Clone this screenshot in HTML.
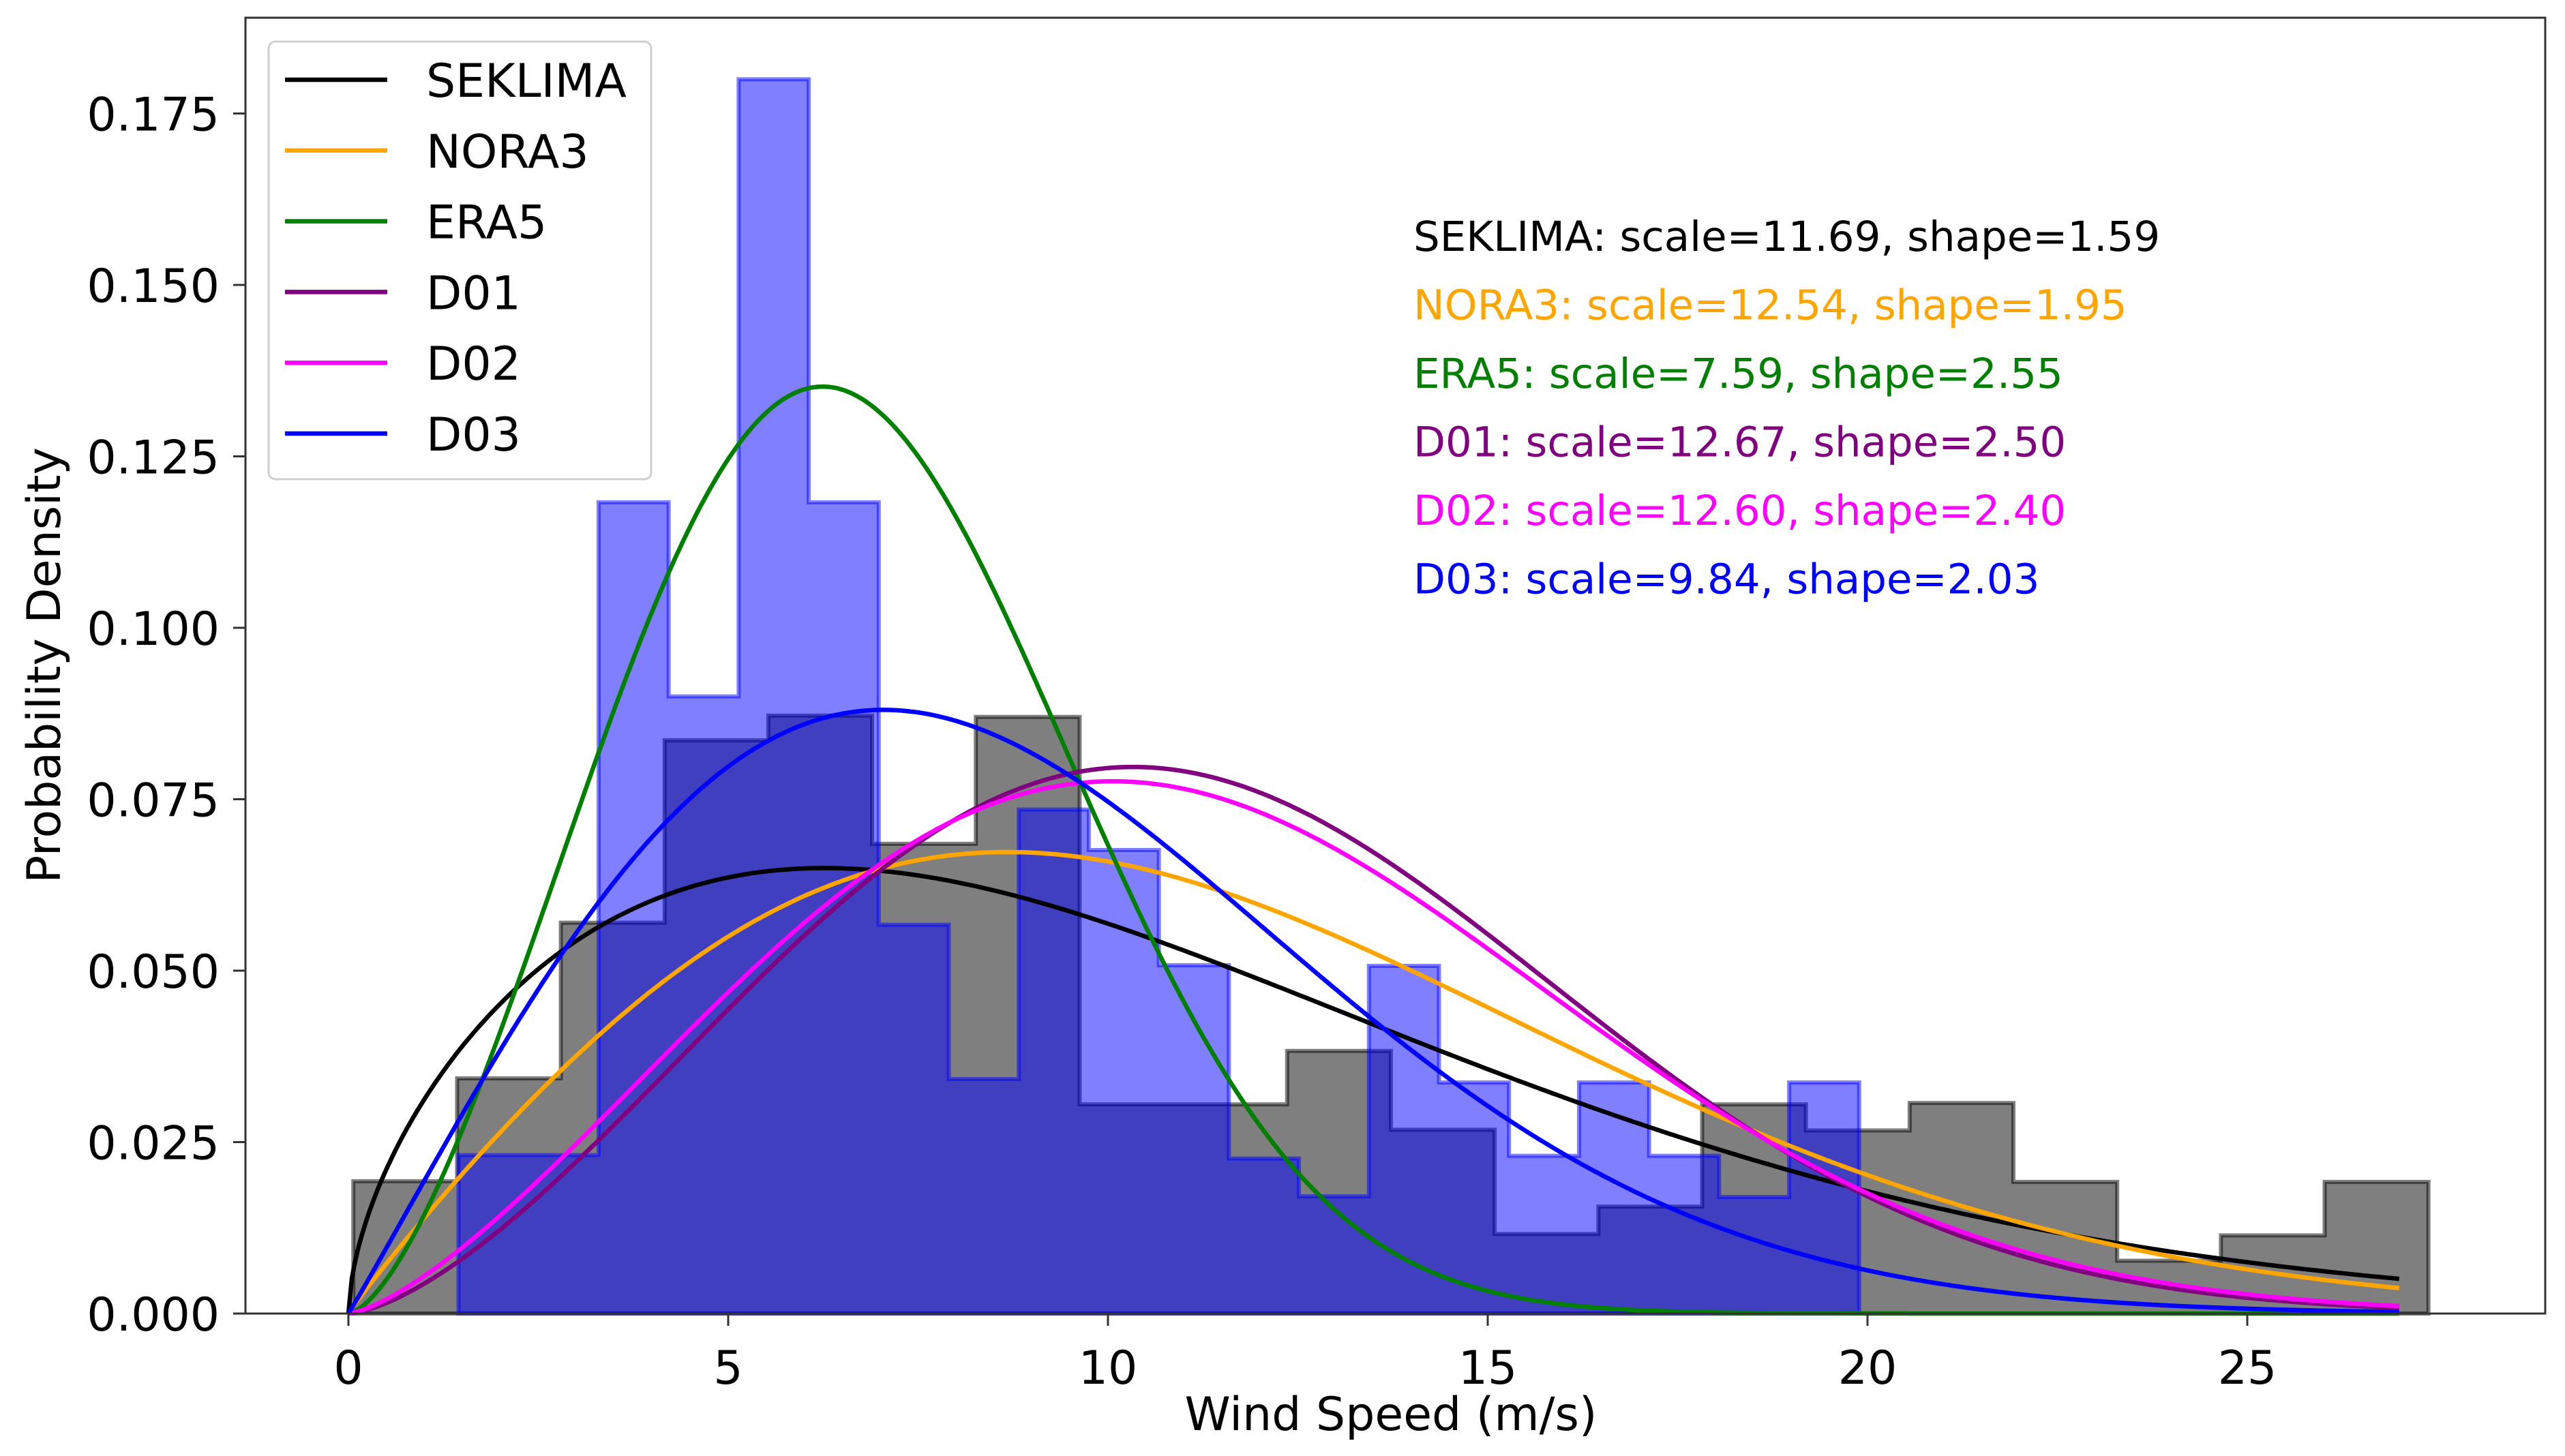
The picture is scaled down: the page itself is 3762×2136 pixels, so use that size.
<!DOCTYPE html>
<html><head><meta charset="utf-8"><style>
html,body{margin:0;padding:0;background:#fff;}
svg{display:block;font-family:"DejaVu Sans","Liberation Sans",sans-serif;}
</style></head><body>
<svg id="chart" width="3762" height="2136" viewBox="0 0 3762 2136" xmlns="http://www.w3.org/2000/svg">
<rect x="0" y="0" width="3762" height="2136" fill="#fff"/>
<g id="hist"></g>
<g id="curves"></g>
<rect x="360" y="26" width="3373" height="1901" fill="none" stroke="#333" stroke-width="3"/>
<g id="axes"></g>
<g id="annot"></g>
<g id="legend"></g>
<text x="2040" y="2098" font-size="68" text-anchor="middle" fill="#000">Wind Speed (m/s)</text>
<text transform="translate(88,976) rotate(-90)" font-size="68" text-anchor="middle" fill="#000">Probability Density</text>
</svg>
<script>
const seriesNames = ["SEKLIMA","NORA3","ERA5","D01","D02","D03"];
const seriesColors = ["#000000","#FFA500","#008000","#800080","#FF00FF","#0000FF"];
const scales = [11.69,12.54,7.59,12.67,12.60,9.84];
const shapes = [1.59,1.95,2.55,2.50,2.40,2.03];
const curveXMax = 27.0;
const seklimaBinStart = 0.065;
const seklimaBinWidth = 1.366;
const seklimaDensity = [0.0193,0.0343,0.057,0.0836,0.0872,0.0685,0.087,0.0305,0.0305,0.0383,0.0268,0.0116,0.0156,0.0305,0.0267,0.0307,0.0192,0.0077,0.0114,0.0192];
const d03BinStart = 1.45;
const d03BinWidth = 0.922;
const d03Density = [0.0231,0.0231,0.1183,0.090,0.180,0.1183,0.0567,0.0342,0.0735,0.0676,0.0508,0.0226,0.0171,0.0507,0.0337,0.023,0.0337,0.023,0.017,0.0337];
const xTicks = [0,5,10,15,20,25];
const yTicks = [0,0.025,0.05,0.075,0.1,0.125,0.15,0.175];
const yTickLabels = ["0.000","0.025","0.050","0.075","0.100","0.125","0.150","0.175"];

const NS = "http://www.w3.org/2000/svg";
function X(v){ return 511 + v*111.4; }
function Y(d){ return 1927 - d*10060; }
function mk(tag, parent){ const e=document.createElementNS(NS,tag); parent.appendChild(e); return e; }

function stepPath(start, width, dens){
  let p = "M"+X(start)+","+Y(0);
  dens.forEach((d,i)=>{
    const x0=X(start+i*width), x1=X(start+(i+1)*width);
    p += " L"+x0+","+Y(d)+" L"+x1+","+Y(d);
  });
  p += " L"+X(start+dens.length*width)+","+Y(0)+" Z";
  return p;
}
const hist = document.getElementById("hist");
const h1 = mk("path", hist);


h1.setAttribute("d", stepPath(seklimaBinStart, seklimaBinWidth, seklimaDensity));
h1.setAttribute("fill","rgba(0,0,0,0.5)");
h1.setAttribute("stroke","rgba(0,0,0,0.5)");
h1.setAttribute("stroke-width","6");
const h2 = mk("path", hist);


h2.setAttribute("d", stepPath(d03BinStart, d03BinWidth, d03Density));
h2.setAttribute("fill","rgba(0,0,255,0.5)");
h2.setAttribute("stroke","rgba(0,0,255,0.5)");
h2.setAttribute("stroke-width","6");

function weibull(x, lam, k){
  if (x<=0) return 0;
  const r = x/lam;
  return (k/lam)*Math.pow(r,k-1)*Math.exp(-Math.pow(r,k));
}
const curves = document.getElementById("curves");
seriesNames.forEach((n,i)=>{
  let p="";
  const N=600;
  for(let j=0;j<=N;j++){
    const x=curveXMax*j/N;
    p += (j?" L":"M")+X(x).toFixed(1)+","+Y(weibull(x,scales[i],shapes[i])).toFixed(1);
  }
  const c = mk("path", curves);
  
  
  c.setAttribute("d", p);
  c.setAttribute("fill","none");
  c.setAttribute("stroke", seriesColors[i]);
  c.setAttribute("stroke-width","6.5");
});

const axes = document.getElementById("axes");
xTicks.forEach(t=>{
  const l = mk("line", axes);
  
  
  l.setAttribute("x1",X(t)); l.setAttribute("x2",X(t));
  l.setAttribute("y1",1927); l.setAttribute("y2",1945);
  l.setAttribute("stroke","#333"); l.setAttribute("stroke-width","3");
  const tx = mk("text", axes);
  
  
  tx.setAttribute("x",X(t)); tx.setAttribute("y",2030);
  tx.setAttribute("font-size","68"); tx.setAttribute("text-anchor","middle");
  tx.textContent = String(t);
});
yTicks.forEach((t,i)=>{
  const l = mk("line", axes);
  
  
  l.setAttribute("x1",342); l.setAttribute("x2",360);
  l.setAttribute("y1",Y(t)); l.setAttribute("y2",Y(t));
  l.setAttribute("stroke","#333"); l.setAttribute("stroke-width","3");
  const tx = mk("text", axes);
  
  
  tx.setAttribute("x",322); tx.setAttribute("y",Y(t)+25);
  tx.setAttribute("font-size","68"); tx.setAttribute("text-anchor","end");
  tx.textContent = yTickLabels[i];
});

const annot = document.getElementById("annot");
seriesNames.forEach((n,i)=>{
  const tx = mk("text", annot);
  
  
  tx.setAttribute("x",2073); tx.setAttribute("y",368+i*100.5);
  tx.setAttribute("font-size","61"); tx.setAttribute("fill",seriesColors[i]);
  tx.textContent = n+": scale="+scales[i].toFixed(2)+", shape="+shapes[i].toFixed(2);
});

const legend = document.getElementById("legend");
const lb = mk("rect", legend);


lb.setAttribute("x",394); lb.setAttribute("y",61); lb.setAttribute("width",561); lb.setAttribute("height",642);
lb.setAttribute("rx",10); lb.setAttribute("fill","rgba(255,255,255,0.85)");
lb.setAttribute("stroke","#d0d0d0"); lb.setAttribute("stroke-width","3");
seriesNames.forEach((n,i)=>{
  const y = 117 + i*103.8;
  const l = mk("line", legend);
  
  
  l.setAttribute("x1",418); l.setAttribute("x2",568); l.setAttribute("y1",y); l.setAttribute("y2",y);
  l.setAttribute("stroke",seriesColors[i]); l.setAttribute("stroke-width","6.5");
  const tx = mk("text", legend);
  
  
  tx.setAttribute("x",625); tx.setAttribute("y",y+25);
  tx.setAttribute("font-size","68");
  tx.textContent = n;
});
</script>
</body></html>
